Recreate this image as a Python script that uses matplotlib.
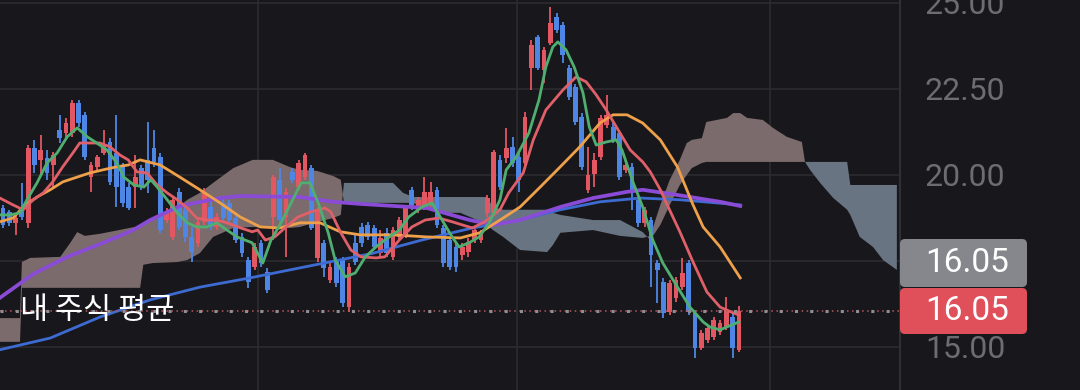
import numpy as np
import matplotlib.pyplot as plt
from matplotlib.patches import FancyBboxPatch
from matplotlib.transforms import IdentityTransform

# daily candles (price)
opens = [19.04, 18.93, 18.61, 18.99, 18.61, 20.79, 20.44, 20.50, 20.29, 21.31,
         21.22, 21.22, 22.10, 21.75, 19.94, 20.24, 20.64, 20.96, 20.64, 20.24,
         19.65, 19.65, 20.21, 20.44, 20.79, 20.53, 18.69, 18.20, 19.51, 18.99,
         18.20, 18.03, 18.64, 19.07, 18.49, 19.19, 19.19, 18.75, 18.20, 17.53,
         17.33, 18.03, 17.18, 18.78, 19.86, 18.78, 20.09, 19.65, 19.94, 20.21,
         17.59, 18.03, 16.95, 17.53, 17.53, 16.16, 18.03, 18.49, 18.55, 18.46,
         17.74, 18.32, 17.62, 18.20, 18.26, 19.57, 18.99, 19.07, 19.19, 19.57,
         18.46, 18.11, 17.91, 17.68, 17.76, 18.11, 18.11, 18.90, 18.90, 20.44,
         20.50, 20.82, 20.53, 20.35, 23.11, 24.01, 23.06, 23.84, 24.60, 24.36,
         23.11, 22.56, 21.69, 19.57, 20.03, 20.53, 21.46, 21.40, 21.22, 20.15,
         20.24, 19.28, 18.61, 18.69, 17.44, 16.89, 16.02, 16.43, 16.75, 17.44,
         15.99, 14.97, 15.21, 15.29, 15.44, 15.58, 15.87, 14.92]
closes = [18.55, 18.61, 18.75, 18.78, 20.79, 20.29, 20.73, 20.06, 20.58, 21.08,
          21.51, 22.10, 21.51, 20.53, 20.29, 20.53, 20.87, 19.80, 19.65, 19.19,
          19.04, 19.94, 19.65, 19.86, 20.38, 18.40, 18.93, 19.28, 18.49, 18.20,
          17.76, 18.64, 19.48, 18.49, 18.78, 18.75, 18.69, 18.11, 17.74, 16.89,
          17.91, 17.44, 16.66, 19.94, 18.69, 19.51, 19.86, 20.35, 20.58, 18.46,
          18.99, 17.30, 17.33, 16.86, 16.28, 17.33, 17.47, 18.03, 18.20, 17.91,
          18.17, 17.74, 18.40, 18.69, 19.04, 19.07, 19.28, 19.51, 19.51, 18.55,
          17.44, 17.33, 17.33, 17.91, 18.06, 18.40, 18.32, 19.33, 20.67, 19.65,
          20.79, 20.35, 19.86, 21.69, 23.78, 23.11, 23.64, 24.42, 24.22, 23.49,
          22.27, 21.54, 20.24, 20.00, 20.44, 21.66, 21.75, 21.02, 19.94, 20.29,
          19.48, 18.61, 18.99, 17.68, 17.24, 15.99, 16.86, 16.95, 17.15, 16.02,
          14.97, 15.41, 15.56, 15.79, 15.70, 16.08, 14.97, 16.05]
highs = [19.13, 18.99, 18.84, 19.77, 20.87, 21.02, 21.17, 20.73, 20.67, 21.75,
         21.66, 22.18, 22.18, 21.83, 20.38, 20.58, 21.31, 21.08, 21.75, 20.35,
         19.77, 20.58, 20.29, 21.54, 21.31, 20.64, 19.04, 19.36, 19.62, 19.07,
         18.49, 18.75, 19.62, 19.28, 18.90, 19.33, 19.28, 18.84, 18.32, 17.62,
         18.03, 18.11, 17.30, 20.00, 20.21, 19.62, 20.21, 20.44, 20.64, 20.29,
         19.07, 18.11, 17.44, 17.62, 17.62, 17.44, 18.26, 18.61, 18.64, 18.55,
         18.40, 18.46, 18.49, 18.78, 19.13, 19.65, 19.36, 19.94, 19.80, 19.65,
         18.55, 18.20, 18.03, 18.03, 18.17, 18.49, 18.40, 19.42, 20.73, 20.58,
         21.37, 21.11, 20.64, 21.83, 23.93, 24.07, 23.72, 24.89, 24.71, 24.45,
         23.20, 22.65, 21.80, 20.82, 20.64, 21.75, 22.33, 21.51, 21.31, 20.38,
         20.35, 19.36, 19.07, 18.78, 17.53, 17.01, 16.95, 17.04, 17.59, 17.53,
         16.08, 15.50, 15.64, 15.87, 15.79, 16.46, 15.99, 16.20]
lows = [18.46, 18.52, 18.26, 18.69, 18.46, 20.06, 20.00, 19.86, 19.65, 20.93,
        21.02, 21.11, 21.40, 20.44, 19.51, 20.15, 20.58, 19.71, 19.07, 19.07,
        18.99, 19.04, 19.57, 19.48, 20.24, 18.32, 18.61, 18.11, 18.40, 18.06,
        17.47, 17.91, 18.55, 18.40, 18.40, 18.64, 18.61, 18.03, 17.62, 16.72,
        17.24, 17.33, 16.57, 18.11, 18.61, 17.62, 19.77, 19.57, 19.86, 18.40,
        17.47, 17.04, 16.86, 16.75, 16.16, 16.02, 17.39, 17.91, 18.11, 17.82,
        17.62, 17.62, 17.53, 18.11, 18.17, 18.99, 18.90, 18.99, 19.07, 18.46,
        17.33, 17.24, 17.18, 17.53, 17.62, 18.03, 18.03, 18.78, 18.84, 19.57,
        20.35, 20.24, 19.51, 20.29, 22.47, 23.06, 22.68, 23.78, 24.13, 23.26,
        22.18, 21.46, 20.15, 19.48, 19.65, 20.44, 21.37, 20.93, 19.86, 20.06,
        18.99, 18.49, 18.49, 16.75, 16.28, 15.85, 15.93, 16.31, 16.66, 15.93,
        14.68, 14.92, 15.12, 15.21, 15.35, 15.50, 14.68, 14.86]

# moving averages: (candle index, price)
ma5_x = [-0.5, 1.1, 2.7, 3.8, 5.4, 7.0, 8.6, 10.2, 11.8, 13.4, 14.9, 16.5, 18.1, 19.2, 20.8,
         22.4, 23.5, 24.5, 26.1, 27.7, 29.3, 30.8, 32.4, 34.0, 35.6, 37.2, 39.6, 41.3, 42.6,
         44.2, 45.8, 47.4, 48.8, 50.1, 51.7, 52.8, 54.4, 56.0, 57.6, 59.3, 60.7, 63.0, 64.5,
         66.6, 68.2, 69.8, 71.4, 72.5, 74.1, 75.7, 77.3, 79.0, 80.0, 81.6, 83.6, 85.2, 86.3,
         87.4, 88.2, 89.5, 90.8, 92.2, 93.2, 94.3, 95.9, 97.5, 98.4, 100.2, 101.7, 103.3,
         104.9, 107.2, 109.2, 111.3, 112.4, 114.0, 117.0]
ma5 = [18.84, 18.84, 18.90, 19.28, 19.77, 20.35, 20.64, 21.11, 21.37, 21.11, 20.93, 20.73,
       20.35, 19.94, 19.71, 19.65, 19.86, 19.65, 19.28, 18.90, 18.61, 18.49, 18.49, 18.61,
       18.40, 18.20, 18.03, 17.44, 18.11, 18.61, 19.19, 19.77, 19.77, 19.19, 18.32, 17.53,
       17.04, 17.15, 17.62, 17.91, 18.11, 18.40, 18.78, 19.07, 19.19, 18.69, 18.20, 17.91,
       18.03, 18.20, 18.61, 19.28, 20.15, 20.53, 21.22, 22.18, 23.14, 23.72, 23.87, 23.64,
       23.14, 22.39, 21.40, 20.87, 20.96, 21.02, 20.73, 19.77, 19.07, 18.11, 17.44, 16.75,
       16.16, 15.73, 15.58, 15.50, 15.73]

ma10_x = [-0.5, 1.6, 3.2, 4.8, 6.4, 7.9, 9.5, 11.1, 12.2, 13.8, 15.4, 17.0, 18.6, 19.9, 21.3,
          22.9, 24.5, 26.1, 27.7, 29.3, 30.8, 32.4, 34.0, 35.6, 37.8, 39.6, 40.5, 41.7, 43.2,
          44.8, 46.9, 49.0, 51.2, 52.1, 53.7, 55.3, 56.9, 59.3, 60.7, 63.0, 65.0, 67.1, 69.3,
          71.4, 73.0, 74.6, 76.6, 79.0, 80.4, 82.7, 84.3, 86.3, 89.0, 91.1, 92.7, 94.3, 95.9,
          97.5, 99.7, 101.7, 102.9, 104.5, 105.6, 107.6, 109.7, 111.9, 114.0, 116.1, 117.0]
ma10 = [19.33, 19.13, 18.99, 19.28, 19.48, 19.80, 20.24, 20.64, 20.93, 20.93, 20.93, 20.82,
        20.58, 20.44, 20.09, 20.06, 19.71, 19.48, 19.28, 19.04, 18.75, 18.69, 18.69, 18.61,
        18.46, 18.35, 18.40, 18.11, 18.20, 18.46, 18.78, 18.93, 19.04, 18.93, 18.32, 17.82,
        17.62, 17.59, 17.62, 18.11, 18.49, 18.69, 18.75, 18.64, 18.55, 18.46, 18.64, 18.99,
        19.48, 20.06, 21.02, 21.89, 22.47, 22.85, 22.71, 22.33, 21.89, 21.40, 20.73, 20.38,
        20.09, 19.57, 19.13, 18.35, 17.47, 16.60, 16.16, 15.99, 15.93]

ma20_x = [-0.5, 1.6, 3.2, 5.4, 7.5, 9.5, 11.8, 13.8, 15.9, 18.1, 19.9, 21.8, 25.0, 28.1, 31.3,
          34.5, 37.7, 40.9, 44.0, 47.2, 50.4, 53.6, 56.8, 62.0, 67.4, 72.7, 75.8, 79.0, 82.2,
          85.4, 88.6, 91.7, 94.9, 97.0, 99.2, 101.7, 104.5, 107.2, 109.7, 111.3, 114.0, 117.2]
ma20 = [18.64, 18.75, 19.07, 19.36, 19.57, 19.80, 19.94, 20.06, 20.15, 20.24, 20.29, 20.44,
        20.29, 19.94, 19.57, 19.19, 18.78, 18.49, 18.46, 18.61, 18.61, 18.35, 18.26, 18.26,
        18.20, 18.17, 18.32, 18.69, 19.07, 19.65, 20.24, 20.82, 21.51, 21.75, 21.75, 21.51,
        21.02, 20.24, 19.13, 18.49, 17.91, 17.01]

ma60_x = [-0.5, 4.8, 10.2, 15.4, 20.7, 23.4, 28.1, 34.5, 37.7, 47.2, 52.5, 56.8, 67.4, 74.2,
          77.9, 82.2, 88.6, 93.8, 99.2, 101.7, 107.2, 114.0, 117.2]
ma60 = [16.43, 17.12, 17.62, 17.99, 18.40, 18.69, 19.10, 19.33, 19.39, 19.36, 19.22, 19.16,
        19.04, 18.69, 18.55, 18.69, 19.07, 19.33, 19.51, 19.57, 19.42, 19.22, 19.10]

ma120_x = [-0.5, 7.5, 15.4, 23.4, 31.3, 39.3, 47.2, 56.8, 58.7, 66.6, 74.6, 82.2, 88.6, 94.9,
           101.3, 107.6, 117.2]
ma120 = [14.92, 15.26, 15.87, 16.37, 16.74, 17.01, 17.30, 17.65, 17.72, 18.11, 18.46, 18.69,
         18.99, 19.22, 19.33, 19.28, 19.13]

# ichimoku cloud (leading spans, shifted forward)
cloud_x = [-0.5, 2.7, 3.0, 4.3, 9.1, 10.7, 11.8, 13.0, 15.4, 21.8, 22.3, 23.8, 27.7, 29.3,
           31.3, 33.4, 36.6, 39.7, 42.9, 45.6, 47.2, 49.9, 52.5, 53.7, 54.2, 62.0, 63.6, 65.2,
           69.0, 72.7, 75.4, 76.9, 77.9, 79.5, 82.2, 86.5, 87.4, 88.6, 93.8, 98.1, 101.7, 102.9,
           104.5, 106.0, 107.6, 108.7, 109.5, 111.1, 111.8, 115.1, 116.1, 117.2, 118.3, 120.8,
           122.4, 124.6, 127.0, 127.5, 128.3, 129.9, 132.0, 134.2, 134.7, 136.2, 138.3, 139.9,
           142.1]
span_a = [15.84, 15.84, 17.47, 17.59, 17.62, 18.03, 18.34, 18.23, 18.29, 18.52, 18.55, 18.75,
          19.04, 19.28, 19.48, 19.77, 20.20, 20.44, 20.44, 20.23, 20.15, 20.12, 19.97, 19.86,
          19.19, 19.19, 19.19, 19.19, 18.90, 18.90, 18.69, 18.55, 18.40, 18.20, 17.82, 17.76,
          17.96, 18.32, 18.40, 18.23, 18.17, 18.23, 19.13, 19.86, 20.44, 20.93, 21.02, 21.07,
          21.54, 21.66, 21.80, 21.80, 21.66, 21.60, 21.37, 21.11, 20.96, 20.38, 20.15, 19.77,
          19.33, 18.99, 18.84, 18.20, 17.91, 17.53, 17.24]
span_b = [15.15, 15.15, 16.72, 16.72, 16.72, 16.72, 16.72, 16.72, 16.72, 16.72, 17.39, 17.44,
          17.47, 17.53, 17.73, 18.20, 18.46, 18.49, 18.46, 18.46, 18.49, 18.63, 18.75, 18.84,
          19.77, 19.77, 19.48, 19.36, 19.36, 19.36, 19.36, 19.36, 19.07, 18.99, 18.99, 18.99,
          18.90, 18.84, 18.69, 18.69, 18.34, 18.11, 18.55, 19.13, 19.71, 20.00, 20.20, 20.35,
          20.38, 20.38, 20.38, 20.38, 20.38, 20.38, 20.38, 20.38, 20.38, 20.38, 20.38, 20.38,
          20.38, 20.38, 19.71, 19.71, 19.71, 19.71, 19.71]

y_ticks = [15, 17.5, 20, 22.5, 25]
y_labels = ['15.00', '', '20.00', '22.50', '25.00']  # 17.50 sits under the price tag
grid_x = [40.5, 81.7, 121.9]
avg_price = 16.05
last_price = 16.05

bg = '#18181c'
up_col = '#e35762'
down_col = '#4e86e6'

fig = plt.figure(figsize=(10.8, 3.9), dpi=100, facecolor=bg)
ax = fig.add_axes([0, 0, 900 / 1080, 1])
ax.set_facecolor(bg)
ax.set_xlim(-0.48, 142.6)
ax.set_ylim(13.75, 25.087)

ax.set_xticks(grid_x)
ax.set_yticks(y_ticks)
ax.grid(True, color='#2b2b30', lw=1.2, zorder=0)
ax.set_axisbelow(True)
ax.yaxis.tick_right()
ax.set_yticklabels(y_labels)
ax.tick_params(axis='x', length=0, labelbottom=False)
ax.tick_params(axis='y', length=0, pad=18, labelsize=23, labelcolor='#6c6c73')
for lab in ax.get_yticklabels():
    lab.set_fontfamily('Roboto')
for s in ['top', 'left', 'bottom']:
    ax.spines[s].set_visible(False)
ax.spines['right'].set_color('#34343a')
ax.spines['right'].set_linewidth(1.2)

# cloud
cx = np.array(cloud_x)
sa = np.array(span_a)
sb = np.array(span_b)
ax.fill_between(cx, sa, sb, where=sa >= sb, interpolate=True, color='#7b6b6c', lw=0, zorder=1)
ax.fill_between(cx, sa, sb, where=sa < sb, interpolate=True, color='#697482', lw=0, zorder=1)

# candles
o = np.array(opens)
c = np.array(closes)
h = np.array(highs)
l = np.array(lows)
x = np.arange(len(o))
cols = np.where(c >= o, up_col, down_col)
ax.vlines(x, l, h, colors=cols, lw=1.3, zorder=3)
body = np.maximum(np.abs(c - o), 0.06)
ax.bar(x, body, bottom=np.minimum(o, c), width=0.76, color=cols, lw=0, zorder=3)

# moving averages
ax.plot(ma120_x, ma120, color='#3d6bd2', lw=2.0, zorder=4)
ax.plot(ma60_x, ma60, color='#8a4cd6', lw=2.7, zorder=4)
ax.plot(ma20_x, ma20, color='#eea04a', lw=2.0, zorder=5)
ax.plot(ma10_x, ma10, color='#e0606a', lw=2.0, zorder=5)
ax.plot(ma5_x, ma5, color='#4fae70', lw=2.0, zorder=5)

# average / current price line
ax.axhline(last_price, color='#b8565c', lw=1.1, ls=(0, (1, 2.3)), zorder=6)
ax.axhline(avg_price, color='#8e8e94', lw=2.2, ls=(0, (1, 4)), zorder=6)
ax.text(2.7, avg_price, '내 주식 평균', color='white', fontsize=22, va='center', ha='left',
        family=['Noto Sans CJK KR', 'DejaVu Sans'], zorder=7)

# price tags on the axis
px = IdentityTransform()
tag_grey = FancyBboxPatch((900, 390 - 287), 127, 48, boxstyle='round,pad=0,rounding_size=5',
                          transform=px, facecolor='#86868d', edgecolor='none')
tag_red = FancyBboxPatch((900, 390 - 334), 127, 46, boxstyle='round,pad=0,rounding_size=5',
                         transform=px, facecolor='#e0505b', edgecolor='none')
fig.add_artist(tag_grey)
fig.add_artist(tag_red)
fig.text(967, 390 - 263, '%.2f' % avg_price, transform=px, color='white', fontsize=24,
         ha='center', va='center', family='Roboto')
fig.text(967, 390 - 311, '%.2f' % last_price, transform=px, color='white', fontsize=24,
         ha='center', va='center', family='Roboto')

fig.savefig('out.png', dpi=100, facecolor=bg)
